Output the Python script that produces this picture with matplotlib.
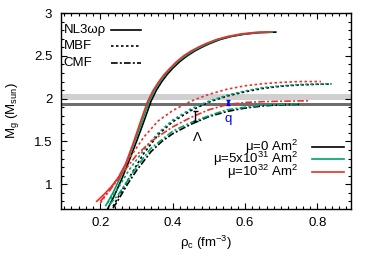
import numpy as np
import matplotlib
matplotlib.use("Agg")
import matplotlib.pyplot as plt
from matplotlib.ticker import MultipleLocator, FuncFormatter

plt.rcParams['font.family'] = ['Liberation Sans', 'DejaVu Sans']
plt.rcParams['mathtext.fontset'] = 'custom'
plt.rcParams['mathtext.rm'] = 'Liberation Sans'
plt.rcParams['mathtext.it'] = 'Liberation Sans'
plt.rcParams['mathtext.bf'] = 'Liberation Sans'

# NL3wr (solid)
rho_nl3_0 = [0.22, 0.24, 0.26, 0.28, 0.30, 0.32, 0.34, 0.355, 0.37, 0.385, 0.40, 0.42, 0.44, 0.46,
             0.48, 0.50, 0.53, 0.56, 0.60, 0.64, 0.685]
m_nl3_0 = [0.71, 0.88, 1.07, 1.28, 1.50, 1.73, 1.97, 2.10, 2.20, 2.285, 2.355, 2.435, 2.50, 2.555,
           2.60, 2.64, 2.69, 2.725, 2.755, 2.772, 2.778]
rho_nl3_5 = [0.215, 0.235, 0.255, 0.275, 0.295, 0.315, 0.335, 0.35, 0.365, 0.38, 0.395, 0.415, 0.435,
             0.455, 0.475, 0.495, 0.525, 0.555, 0.595, 0.635, 0.675]
m_nl3_5 = [0.75, 0.90, 1.08, 1.28, 1.50, 1.73, 1.97, 2.10, 2.20, 2.285, 2.355, 2.435, 2.50,
           2.555, 2.60, 2.64, 2.69, 2.725, 2.755, 2.772, 2.778]
rho_nl3_10 = [0.19, 0.21, 0.23, 0.25, 0.27, 0.29, 0.31, 0.33, 0.345, 0.36, 0.375, 0.39, 0.41, 0.43,
              0.45, 0.47, 0.49, 0.52, 0.55, 0.59, 0.63, 0.667]
m_nl3_10 = [0.80, 0.88, 0.97, 1.08, 1.24, 1.47, 1.72, 1.96, 2.09, 2.19, 2.275, 2.345, 2.43, 2.50,
            2.555, 2.60, 2.64, 2.69, 2.725, 2.757, 2.775, 2.78]

# MBF (dotted)
rho_mbf_0 = [0.235, 0.26, 0.29, 0.32, 0.36, 0.40, 0.45, 0.50, 0.55, 0.60, 0.65, 0.70, 0.75, 0.80, 0.835]
m_mbf_0 = [0.74, 0.93, 1.15, 1.36, 1.58, 1.73, 1.86, 1.96, 2.03, 2.08, 2.12, 2.145, 2.16, 2.168, 2.17]
rho_mbf_5 = [0.22, 0.25, 0.28, 0.32, 0.36, 0.40, 0.45, 0.50, 0.55, 0.60, 0.65, 0.70, 0.75, 0.80, 0.84]
m_mbf_5 = [0.78, 0.96, 1.17, 1.40, 1.60, 1.75, 1.88, 1.97, 2.04, 2.09, 2.13, 2.15, 2.165, 2.17, 2.172]
rho_mbf_10 = [0.20, 0.22, 0.25, 0.28, 0.32, 0.36, 0.40, 0.45, 0.50, 0.55, 0.60, 0.65, 0.70, 0.75, 0.81]
m_mbf_10 = [0.78, 0.90, 1.08, 1.30, 1.55, 1.74, 1.86, 1.97, 2.05, 2.11, 2.15, 2.175, 2.19, 2.20, 2.20]

# CMF (dash-dot)
rho_cmf_0 = [0.235, 0.25, 0.275, 0.30, 0.34, 0.37, 0.40, 0.45, 0.50, 0.55, 0.60, 0.65, 0.70, 0.75]
m_cmf_0 = [0.72, 0.82, 1.00, 1.16, 1.38, 1.50, 1.59, 1.70, 1.79, 1.85, 1.89, 1.915, 1.93, 1.935]
rho_cmf_5 = [0.225, 0.25, 0.275, 0.30, 0.34, 0.40, 0.45, 0.50, 0.55, 0.60, 0.65, 0.70, 0.755]
m_cmf_5 = [0.76, 0.88, 1.04, 1.20, 1.42, 1.62, 1.72, 1.80, 1.87, 1.90, 1.925, 1.935, 1.94]
rho_cmf_10 = [0.20, 0.23, 0.26, 0.30, 0.34, 0.40, 0.45, 0.50, 0.55, 0.60, 0.65, 0.70, 0.775]
m_cmf_10 = [0.80, 0.95, 1.12, 1.34, 1.50, 1.67, 1.78, 1.87, 1.93, 1.955, 1.965, 1.97, 1.975]

# observational bands
band_light = (1.985, 2.055)
band_dark = (1.91, 1.948)

# annotations
lam_x, lam_lo, lam_hi = 0.462, 1.74, 1.85
q_x, q_lo, q_hi = 0.553, 1.92, 1.985

eos_labels = ['NL3\u03c9\u03c1', 'MBF', 'CMF']
mu_labels = ['\u03bc=0 Am$^2$', '\u03bc=5x10$^{31}$ Am$^2$', '\u03bc=10$^{32}$ Am$^2$']
colors = ['#000000', '#00a070', '#e8312a']

fs = 9.5
lw = 1.2
dot = (0, (1.5, 1.5))
dashdot = (0, (4, 1.3, 1.2, 1.3))

fig = plt.figure(figsize=(3.74, 2.62), dpi=100)
ax = fig.add_axes([0.162, 0.2023, 0.7765, 0.7477])

ax.axhspan(*band_light, color='#d0d0d0', lw=0, zorder=0)
ax.axhspan(*band_dark, color='#6e6e6e', lw=0, zorder=0)

curves = [
    (rho_nl3_0, m_nl3_0, rho_nl3_5, m_nl3_5, rho_nl3_10, m_nl3_10, '-'),
    (rho_mbf_0, m_mbf_0, rho_mbf_5, m_mbf_5, rho_mbf_10, m_mbf_10, dot),
    (rho_cmf_0, m_cmf_0, rho_cmf_5, m_cmf_5, rho_cmf_10, m_cmf_10, dashdot),
]
for c in curves:
    ls = c[6]
    for k in range(3):
        ax.plot(c[2 * k], c[2 * k + 1], color=colors[k], ls=ls, lw=lw, zorder=2 + k)

ax.errorbar([lam_x], [(lam_lo + lam_hi) / 2], yerr=[(lam_hi - lam_lo) / 2],
            color='k', capsize=1.8, lw=1.0, capthick=1.0, zorder=6)
ax.errorbar([q_x], [(q_lo + q_hi) / 2], yerr=[(q_hi - q_lo) / 2],
            color='#0000ff', capsize=1.2, lw=1.8, capthick=1.0, zorder=6)
ax.text(lam_x + 0.005, 1.54, '\u039b', fontsize=fs, ha='center', va='center')
ax.text(q_x, 1.765, 'q', color='#0000ff', fontsize=fs, ha='center', va='center')

# key 1 (EOS)
ys1 = [0.913, 0.832, 0.745]
for lab, ls, yy in zip(eos_labels, ['-', dot, dashdot], ys1):
    ax.text(0.011, yy, lab, transform=ax.transAxes, fontsize=fs, va='center', ha='left')
    ax.plot([0.173, 0.277], [yy, yy], transform=ax.transAxes, color='k', ls=ls, lw=lw)

# key 2 (mu)
ys2 = [0.318, 0.254, 0.189]
for lab, col, yy in zip(mu_labels, colors, ys2):
    ax.text(0.818, yy, lab, transform=ax.transAxes, fontsize=fs, va='center', ha='right')
    ax.plot([0.866, 0.976], [yy, yy], transform=ax.transAxes, color=col, lw=lw)

ax.set_xlim(0.09, 0.893)
ax.set_ylim(0.71, 3.0)
ax.set_xticks([0.2, 0.4, 0.6, 0.8])
ax.set_yticks([1, 1.5, 2, 2.5, 3])
ax.xaxis.set_minor_locator(MultipleLocator(0.02))
ax.yaxis.set_minor_locator(MultipleLocator(0.1))
ax.yaxis.set_major_formatter(FuncFormatter(lambda v, p: '%g' % v))
ax.tick_params(which='both', direction='in', top=True, right=True, labelsize=fs, width=0.8)
ax.tick_params(which='major', length=4.5)
ax.tick_params(which='minor', length=2.2)
ax.tick_params(axis='y', pad=6)
ax.tick_params(axis='x', pad=6)
for s in ax.spines.values():
    s.set_linewidth(1.0)

ax.set_xlabel('\u03c1$_c$ (fm$^{-3}$)', fontsize=fs, labelpad=3)
ax.set_ylabel('M$_g$ (M$_{sun}$)', fontsize=fs, labelpad=9)

fig.savefig('out.png', dpi=100)
